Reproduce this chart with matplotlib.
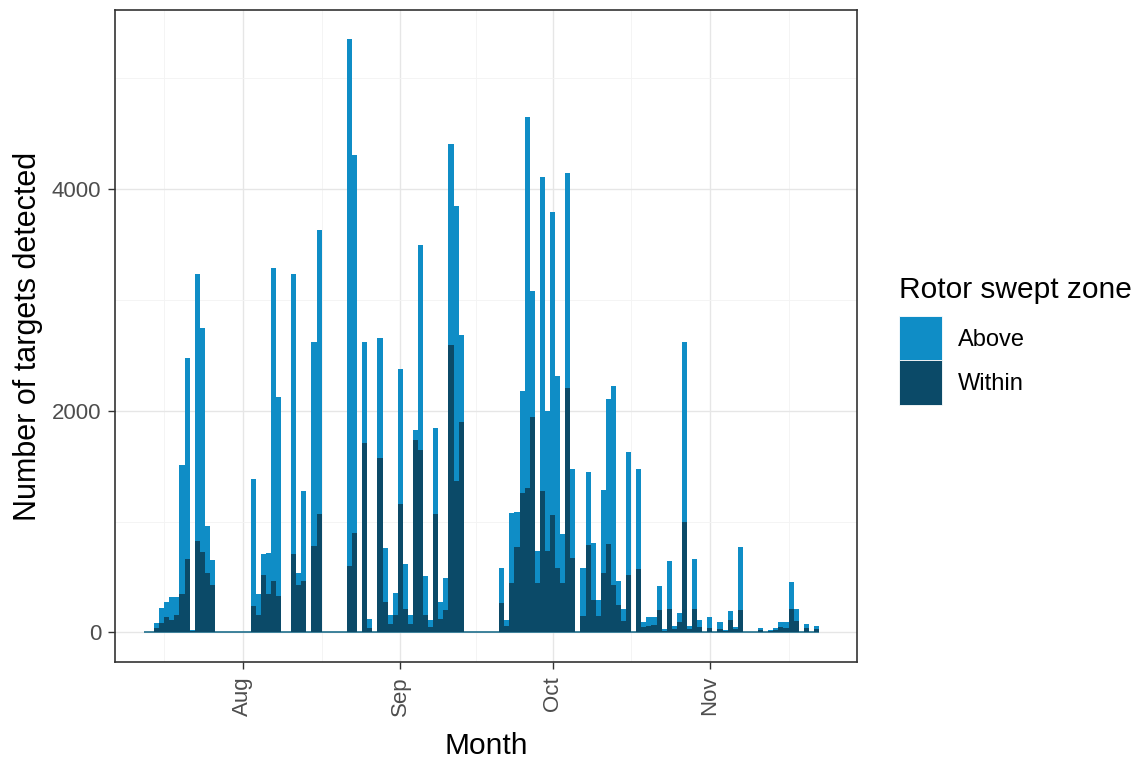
import matplotlib
matplotlib.use("Agg")
import matplotlib.pyplot as plt
import matplotlib.dates as mdates
from matplotlib.patches import Patch
import numpy as np
import pandas as pd

plt.rcParams['font.family'] = ['Liberation Sans', 'DejaVu Sans']

# daily counts, one value per day starting on start_date
start_date = '2019-07-13'
total_targets = [
    0, 0, 85, 218, 275, 320, 320, 1509, 2471, 20,
    3234, 2747, 962, 654, 0, 0, 0, 0, 0, 0,
    0, 1381, 350, 709, 716, 3287, 2124, 0, 0, 3234,
    538, 1275, 0, 2622, 3634, 0, 0, 0, 0, 0,
    5348, 4302, 0, 2617, 123, 0, 2656, 765, 160, 358,
    2380, 613, 160, 1822, 3495, 511, 108, 1840, 278, 493,
    4404, 3849, 2683, 0, 0, 0, 0, 0, 0, 0,
    584, 112, 1073, 1085, 2176, 4649, 3080, 736, 4109, 2000,
    3789, 2311, 888, 4144, 1478, 0, 584, 1444, 803, 297,
    1283, 2109, 2220, 468, 208, 1630, 0, 1478, 96, 143,
    143, 419, 30, 643, 54, 179, 2622, 54, 664, 114,
    0, 143, 0, 96, 20, 197, 50, 769, 0, 0,
    0, 36, 0, 24, 36, 98, 90, 455, 215, 0,
    72, 0, 54,
]
within_rsz = [
    0, 0, 40, 85, 140, 115, 160, 350, 660, 10,
    822, 727, 538, 425, 0, 0, 0, 0, 0, 0,
    0, 237, 160, 520, 350, 463, 332, 0, 0, 709,
    425, 463, 0, 784, 1067, 0, 0, 0, 0, 0,
    600, 897, 0, 1709, 40, 0, 1570, 275, 80, 160,
    1162, 211, 80, 1740, 1650, 160, 50, 1067, 120, 200,
    2596, 1369, 1897, 0, 0, 0, 0, 0, 0, 0,
    264, 60, 448, 770, 1260, 1300, 1940, 444, 1276, 736,
    1058, 584, 444, 2203, 668, 0, 144, 787, 297, 150,
    534, 798, 424, 250, 100, 514, 0, 574, 50, 60,
    70, 200, 15, 215, 30, 90, 993, 30, 215, 50,
    0, 40, 0, 30, 10, 110, 30, 200, 0, 0,
    0, 20, 0, 15, 20, 45, 40, 215, 100, 0,
    40, 0, 30,
]
zone_labels = ['Above', 'Within']
month_ticks = ['2019-08-01', '2019-09-01', '2019-10-01', '2019-11-01']
month_labels = ['Aug', 'Sep', 'Oct', 'Nov']
y_ticks = [0, 2000, 4000]

above_col = '#0f8dc6'
within_col = '#0b4a68'

dates = mdates.date2num(pd.date_range(start_date, periods=len(total_targets)))

fig = plt.figure(figsize=(11.39, 7.61), dpi=100)
ax = fig.add_axes([0.101, 0.130, 0.651, 0.857])

ax.hlines(0, dates[0] - 0.5, dates[-1] + 0.5, color='#1f6f8c', lw=1.2, zorder=2)
ax.bar(dates, total_targets, width=1.0, color=above_col, linewidth=0, zorder=3)
ax.bar(dates, within_rsz, width=1.0, color=within_col, linewidth=0, zorder=4)

ax.set_xlim(dates[2] - 8.2, dates[2] + 137.9)
ax.set_ylim(-267, 5615)

major_x = mdates.date2num(pd.to_datetime(month_ticks))
minor_x = list((major_x[:-1] + major_x[1:]) / 2)
minor_x = [major_x[0] - (major_x[1] - major_x[0]) / 2] + minor_x + [major_x[-1] + (major_x[1] - major_x[0]) / 2]
ax.set_xticks(major_x)
ax.set_xticklabels(month_labels, rotation=90)
ax.set_xticks(minor_x, minor=True)
ax.set_yticks(y_ticks)
ax.set_yticks([1000, 3000, 5000], minor=True)

ax.grid(which='major', color='#e6e6e6', lw=1.0, zorder=0)
ax.grid(which='minor', color='#f3f3f3', lw=0.6, zorder=0)
ax.set_axisbelow(True)

ax.tick_params(which='major', length=5, width=1, color='#333333',
               labelsize=16, labelcolor='#4d4d4d', pad=5)
ax.tick_params(which='minor', length=0)
for s in ax.spines.values():
    s.set_color('#333333')
    s.set_linewidth(1.2)

ax.set_xlabel('Month', fontsize=21.5, labelpad=12)
ax.set_ylabel('Number of targets detected', fontsize=22, labelpad=6)

handles = [Patch(facecolor=above_col, edgecolor='white', lw=0.6),
           Patch(facecolor=within_col, edgecolor='white', lw=0.6)]
leg = fig.legend(handles, zone_labels, title='Rotor swept zone',
                 loc='upper left', bbox_to_anchor=(0.781, 0.650),
                 frameon=False, fontsize=17, title_fontsize=21.5,
                 handlelength=1.8, handleheight=2.5, labelspacing=0.0,
                 handletextpad=0.7, borderaxespad=0)
leg._legend_box.align = 'left'
leg._legend_box.sep = 9

fig.savefig('out.png', dpi=100)
